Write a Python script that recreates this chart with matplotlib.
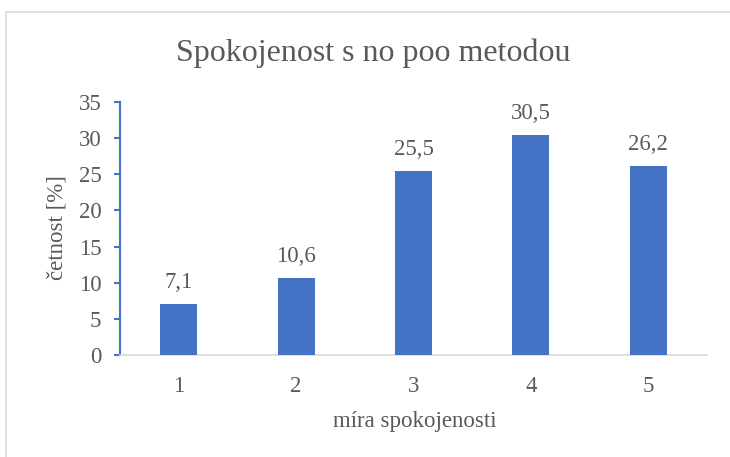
import numpy as np
import matplotlib.pyplot as plt
from matplotlib.patches import Rectangle

# data
categories = ['1', '2', '3', '4', '5']
values = [7.1, 10.6, 25.5, 30.5, 26.2]
y_ticks = [0, 5, 10, 15, 20, 25, 30, 35]

plt.rcParams['font.family'] = ['Liberation Serif', 'DejaVu Serif']
text_color = '#595959'
bar_color = '#4472C4'
fs = 16.5

fig = plt.figure(figsize=(7.3, 4.57), dpi=100)
ax = fig.add_axes([120 / 730, 1 - 355 / 457, 587 / 730, 253 / 457])

# light chart border (runs off the right and bottom edges)
fig.patches.append(Rectangle((6 / 730, -0.1), 1.2, 1.1 - 12 / 457, transform=fig.transFigure,
                             fill=False, edgecolor='#D9D9D9', linewidth=1.2))

x = np.arange(1, len(values) + 1)
ax.bar(x, values, width=0.315, color=bar_color, zorder=3)

for xi, v in zip(x, values):
    ax.annotate(f'{v:.1f}'.replace('.', ','), (xi, v), xytext=(0, 11.5), textcoords='offset points',
                ha='center', va='baseline', fontsize=fs, color=text_color)

ax.set_xlim(0.5, 5.5)
ax.set_ylim(0, 35)
ax.set_xticks(x)
ax.set_xticklabels(categories)
ax.set_yticks(y_ticks)

for s in ['top', 'right']:
    ax.spines[s].set_visible(False)
ax.spines['left'].set_color(bar_color)
ax.spines['left'].set_linewidth(1.5)
ax.spines['bottom'].set_color('#D9D9D9')
ax.spines['bottom'].set_linewidth(1.2)

ax.tick_params(axis='y', direction='out', length=4.5, width=1.5, color=bar_color,
               labelsize=fs, labelcolor=text_color, pad=9)
ax.tick_params(axis='x', length=0, labelsize=fs, labelcolor=text_color, pad=15)

fig.text(373 / 730, 1 - 61 / 457, 'Spokojenost s no poo metodou', fontsize=23,
         color=text_color, ha='center', va='baseline')
fig.text(415 / 730, 1 - 427 / 457, 'míra spokojenosti', fontsize=fs,
         color=text_color, ha='center', va='baseline')
fig.text(57 / 730, 1 - 228 / 457, 'četnost [%]', fontsize=fs, color=text_color,
         ha='center', va='center', rotation=90)

fig.savefig('out.png', dpi=100)
